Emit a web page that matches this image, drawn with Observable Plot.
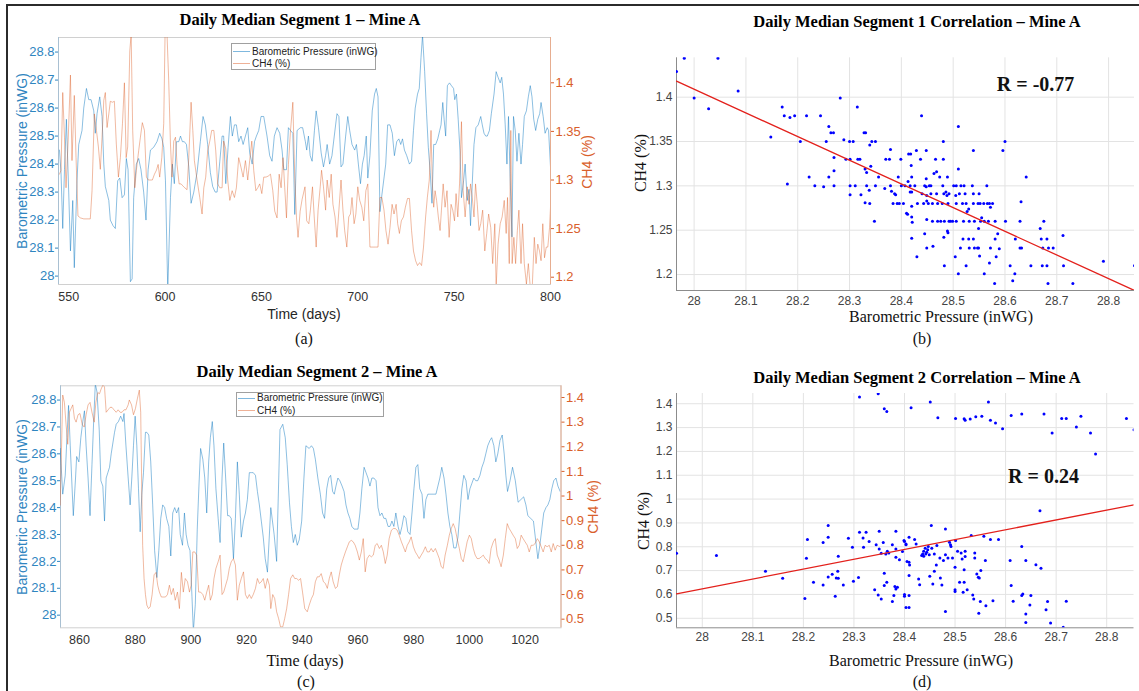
<!DOCTYPE html>
<html><head><meta charset="utf-8">
<script src="https://cdn.jsdelivr.net/npm/d3@7"></script>
<script src="https://cdn.jsdelivr.net/npm/@observablehq/plot@0.6"></script>
<style>
html,body{margin:0;padding:0;background:#fff;}
#page{position:relative;width:1139px;height:691px;overflow:hidden;background:#fff;}
.t{position:absolute;white-space:nowrap;line-height:1;}
.serif{font-family:"Liberation Serif","Times New Roman",serif;}
.sans{font-family:"Liberation Sans",Arial,sans-serif;}
.legend{position:absolute;border:1px solid #a0a0a0;background:#fff;font-family:"Liberation Sans",Arial,sans-serif;font-size:10px;color:#222;box-sizing:border-box;}
.legend .row{position:absolute;left:0;white-space:nowrap;line-height:1;}
.legend .sw{display:inline-block;width:17px;height:0;border-top:1.2px solid;vertical-align:middle;margin:0 2px 0 1px;}
</style></head>
<body><div id="page"></div>
<script>
// ---------------- DATA ----------------
const pressTicks = [28, 28.1, 28.2, 28.3, 28.4, 28.5, 28.6, 28.7, 28.8];
const dayTicksA = [550, 600, 650, 700, 750, 800];
const ch4TicksA = [1.2, 1.25, 1.3, 1.35, 1.4];
const dayTicksC = [860, 880, 900, 920, 940, 960, 980, 1000, 1020];
const ch4TicksC = [0.5, 0.6, 0.7, 0.8, 0.9, 1, 1.1, 1.2, 1.3, 1.4];
const ch4TicksB = [1.2, 1.25, 1.3, 1.35, 1.4];
const ch4TicksD = [0.5, 0.6, 0.7, 0.8, 0.9, 1, 1.1, 1.2, 1.3, 1.4];

// Segment 1 (days 545-800): barometric pressure [day, inWG]
const pressA = [[545.2,28.45],[546.0,28.37],[546.9,28.17],[547.8,28.38],[548.8,28.56],[550.0,28.30],[550.9,28.09],[552.1,28.27],[552.9,28.03],[554.3,28.34],[555.2,28.47],[556.9,28.52],[557.8,28.60],[559.2,28.67],[560.4,28.63],[561.6,28.63],[563.0,28.59],[563.8,28.51],[564.7,28.58],[566.1,28.64],[567.3,28.57],[568.2,28.40],[569.0,28.32],[570.8,28.27],[571.6,28.20],[573.0,28.18],[574.2,28.17],[575.4,28.34],[576.5,28.35],[577.7,28.28],[578.9,28.29],[579.9,28.42],[580.8,28.38],[582.0,27.98],[582.9,27.99],[583.7,28.28],[585.1,28.40],[586.3,28.42],[587.5,28.38],[588.9,28.30],[590.1,28.20],[591.2,28.38],[592.4,28.45],[594.1,28.46],[595.8,28.48],[597.2,28.51],[598.4,28.49],[599.3,28.46],[600.2,28.34],[601.4,27.95],[602.8,28.28],[603.8,28.40],[604.8,28.33],[605.9,28.48],[607.1,28.48],[608.0,28.50],[609.0,28.48],[610.0,28.48],[611.1,28.47],[612.3,28.39],[613.5,28.26],[614.9,28.30],[616.6,28.37],[618.3,28.48],[619.7,28.57],[620.9,28.54],[622.1,28.47],[623.5,28.37],[624.7,28.32],[626.0,28.30],[627.0,28.30],[628.4,28.41],[629.6,28.50],[630.4,28.50],[631.5,28.33],[632.7,28.46],[633.9,28.57],[634.9,28.50],[636.0,28.54],[637.0,28.54],[638.2,28.48],[639.4,28.50],[640.5,28.47],[641.7,28.50],[642.9,28.53],[643.9,28.44],[645.2,28.40],[646.4,28.48],[647.4,28.50],[648.6,28.52],[649.8,28.57],[651.2,28.57],[652.9,28.50],[654.3,28.43],[655.5,28.41],[656.7,28.50],[658.1,28.53],[659.5,28.51],[660.7,28.45],[661.6,28.38],[663.0,28.38],[664.0,28.53],[665.1,28.52],[666.3,28.51],[667.3,28.22],[668.5,28.52],[670.2,28.53],[671.4,28.53],[672.8,28.48],[673.5,28.45],[674.4,28.50],[675.3,28.43],[676.3,28.41],[677.5,28.52],[678.4,28.59],[679.6,28.53],[681.0,28.44],[682.2,28.39],[683.3,28.43],[684.1,28.47],[685.4,28.40],[686.6,28.43],[687.8,28.50],[689.2,28.58],[690.2,28.57],[691.3,28.39],[692.3,28.40],[693.7,28.50],[694.8,28.57],[695.8,28.52],[697.0,28.47],[698.4,28.45],[699.3,28.47],[700.3,28.40],[701.4,28.33],[702.4,28.40],[703.3,28.43],[704.4,28.50],[705.2,28.35],[706.3,28.43],[707.5,28.59],[708.7,28.65],[709.6,28.67],[710.5,28.64],[711.5,28.23],[712.5,28.29],[713.6,28.35],[714.5,28.40],[715.5,28.54],[716.7,28.54],[717.9,28.51],[719.0,28.43],[720.2,28.48],[721.3,28.49],[722.3,28.47],[723.2,28.49],[724.2,28.45],[725.4,28.43],[726.8,28.40],[727.9,28.41],[728.9,28.52],[729.8,28.60],[731.0,28.65],[731.9,28.67],[732.8,28.78],[733.6,28.86],[734.7,28.73],[735.7,28.58],[736.6,28.46],[737.6,28.37],[738.5,28.26],[739.4,28.47],[740.4,28.47],[741.5,28.49],[742.5,28.52],[743.2,28.54],[744.1,28.62],[744.8,28.56],[745.6,28.50],[746.5,28.68],[747.6,28.69],[748.6,28.68],[749.7,28.67],[750.3,28.63],[751.2,28.65],[752.1,28.56],[753.0,28.45],[753.8,28.28],[754.9,28.34],[755.7,28.40],[756.8,28.27],[757.7,28.31],[758.5,28.18],[759.4,28.33],[760.3,28.47],[761.3,28.53],[762.5,28.54],[763.8,28.57],[764.6,28.54],[765.5,28.51],[766.4,28.50],[767.2,28.50],[768.3,28.52],[769.3,28.58],[770.7,28.65],[771.8,28.73],[772.8,28.71],[773.9,28.69],[774.7,28.71],[775.6,28.65],[776.5,28.54],[777.4,28.40],[778.2,28.57],[779.1,28.34],[780.0,28.14],[780.8,28.57],[781.7,28.52],[782.6,28.41],[783.6,28.51],[784.7,28.40],[785.5,28.47],[786.4,28.57],[787.5,28.59],[788.5,28.64],[789.5,28.68],[790.4,28.64],[791.3,28.56],[792.3,28.52],[793.4,28.56],[794.4,28.58],[795.1,28.62],[796.2,28.57],[797.2,28.51],[798.3,28.53],[799.0,28.52],[800.0,28.39]];

// Segment 1: CH4 [day, %]
const ch4A = [[545.2,1.306],[546.0,1.31],[546.9,1.39],[547.8,1.344],[548.6,1.292],[549.7,1.34],[550.9,1.408],[551.7,1.32],[552.9,1.387],[553.8,1.323],[554.8,1.263],[556.1,1.261],[557.8,1.26],[559.5,1.26],[561.2,1.26],[562.1,1.289],[563.3,1.368],[564.4,1.351],[565.4,1.334],[566.4,1.311],[567.3,1.344],[568.2,1.382],[569.0,1.39],[569.9,1.354],[570.8,1.368],[571.6,1.381],[572.7,1.38],[573.7,1.381],[574.7,1.337],[575.8,1.303],[576.8,1.323],[577.9,1.358],[578.9,1.40],[579.8,1.323],[580.6,1.334],[581.7,1.433],[582.4,1.45],[583.2,1.351],[584.3,1.292],[585.1,1.31],[586.3,1.33],[587.2,1.344],[588.2,1.359],[589.3,1.351],[590.3,1.303],[591.3,1.30],[592.4,1.30],[593.4,1.30],[594.5,1.306],[595.5,1.31],[596.4,1.316],[597.2,1.303],[598.3,1.323],[599.3,1.358],[600.0,1.45],[601.0,1.45],[601.9,1.402],[602.8,1.337],[603.6,1.303],[604.5,1.34],[605.4,1.344],[606.2,1.316],[607.3,1.296],[608.3,1.296],[609.2,1.294],[610.2,1.292],[611.4,1.29],[612.3,1.323],[613.5,1.38],[614.4,1.351],[615.2,1.32],[616.6,1.30],[618.0,1.282],[619.2,1.265],[620.1,1.292],[621.1,1.303],[622.1,1.33],[623.2,1.34],[624.2,1.351],[625.3,1.351],[626.3,1.33],[627.3,1.296],[628.4,1.292],[629.6,1.292],[630.4,1.34],[631.5,1.332],[632.5,1.30],[633.6,1.279],[634.8,1.289],[636.0,1.282],[637.0,1.292],[638.2,1.323],[639.4,1.313],[640.5,1.303],[641.7,1.32],[642.9,1.30],[643.9,1.32],[645.0,1.34],[646.0,1.31],[647.1,1.289],[648.1,1.292],[649.1,1.296],[650.2,1.286],[651.2,1.303],[652.4,1.303],[653.5,1.304],[654.7,1.306],[655.9,1.289],[656.9,1.268],[658.1,1.261],[659.2,1.306],[660.2,1.292],[661.2,1.323],[662.1,1.292],[663.0,1.261],[664.0,1.316],[665.1,1.351],[666.3,1.38],[667.3,1.303],[668.2,1.261],[669.0,1.241],[670.1,1.268],[671.1,1.28],[672.6,1.293],[673.5,1.258],[674.6,1.255],[675.4,1.269],[676.5,1.293],[677.4,1.262],[678.4,1.231],[679.4,1.269],[680.5,1.293],[681.2,1.31],[682.2,1.293],[683.3,1.269],[684.1,1.30],[685.2,1.282],[686.2,1.306],[687.1,1.275],[688.2,1.262],[689.2,1.241],[690.2,1.269],[691.3,1.30],[692.3,1.269],[693.2,1.248],[694.3,1.231],[695.3,1.262],[696.2,1.265],[697.0,1.282],[698.1,1.255],[699.0,1.265],[700.0,1.293],[701.0,1.279],[702.1,1.272],[703.1,1.258],[704.2,1.289],[705.2,1.296],[706.3,1.231],[707.3,1.231],[708.4,1.231],[709.4,1.231],[710.5,1.231],[711.5,1.282],[712.5,1.282],[713.6,1.269],[714.6,1.248],[715.7,1.234],[716.7,1.251],[717.8,1.275],[718.8,1.265],[719.9,1.275],[720.7,1.255],[721.6,1.245],[722.6,1.258],[723.7,1.262],[724.7,1.272],[725.8,1.281],[726.8,1.281],[727.9,1.248],[728.9,1.227],[730.0,1.217],[731.0,1.212],[732.1,1.215],[733.1,1.212],[734.1,1.231],[735.2,1.262],[736.1,1.282],[737.1,1.30],[738.0,1.351],[738.7,1.296],[739.4,1.272],[740.1,1.289],[740.9,1.279],[741.8,1.262],[742.7,1.248],[743.4,1.269],[744.3,1.296],[745.3,1.272],[746.3,1.289],[747.4,1.241],[748.4,1.275],[749.3,1.269],[750.2,1.258],[751.0,1.286],[751.9,1.262],[752.8,1.296],[753.8,1.36],[754.7,1.289],[755.7,1.262],[756.8,1.293],[757.7,1.275],[758.5,1.296],[759.4,1.282],[760.3,1.262],[761.1,1.296],[762.0,1.275],[762.9,1.248],[763.8,1.255],[764.8,1.269],[765.9,1.227],[766.9,1.245],[767.9,1.265],[769.0,1.251],[770.0,1.214],[771.1,1.255],[771.8,1.19],[772.8,1.234],[773.9,1.255],[774.9,1.262],[776.0,1.279],[777.0,1.245],[777.7,1.282],[778.6,1.214],[779.4,1.351],[780.1,1.214],[781.0,1.241],[781.9,1.214],[782.8,1.248],[783.6,1.269],[784.7,1.214],[785.5,1.255],[786.4,1.214],[787.5,1.193],[788.5,1.214],[789.5,1.19],[790.6,1.193],[791.6,1.241],[792.5,1.214],[793.4,1.234],[794.3,1.227],[795.1,1.217],[796.0,1.255],[796.9,1.22],[797.8,1.231],[798.6,1.231],[799.5,1.251],[800.0,1.272]];

// Segment 2 (days 853-1033): barometric pressure [day, inWG]
const pressC = [[853.1,28.62],[854.0,28.45],[854.9,28.52],[855.5,28.66],[856.1,28.78],[856.7,28.63],[857.2,28.51],[857.8,28.37],[858.6,28.51],[859.0,28.59],[859.8,28.57],[860.5,28.66],[861.2,28.72],[861.8,28.76],[862.4,28.63],[863.1,28.51],[863.8,28.37],[864.5,28.56],[865.1,28.72],[865.7,28.86],[866.3,28.83],[867.1,28.69],[867.7,28.50],[868.4,28.48],[869.0,28.35],[869.6,28.51],[870.2,28.53],[870.8,28.55],[871.4,28.60],[872.0,28.64],[872.6,28.68],[873.2,28.71],[874.0,28.72],[874.8,28.74],[875.6,28.72],[876.0,28.75],[876.7,28.63],[877.5,28.51],[878.2,28.41],[878.8,28.51],[879.4,28.63],[880.0,28.74],[880.6,28.63],[881.2,28.47],[881.8,28.31],[882.4,28.45],[883.0,28.53],[883.7,28.68],[884.2,28.68],[884.9,28.67],[885.6,28.57],[886.3,28.41],[887.0,28.24],[887.8,28.14],[888.5,28.24],[889.2,28.36],[889.9,28.41],[890.6,28.40],[891.3,28.36],[892.1,28.33],[892.8,28.22],[893.5,28.38],[894.2,28.40],[894.9,28.38],[895.6,28.40],[896.2,28.30],[897.0,28.26],[897.7,28.38],[898.3,28.30],[899.0,28.26],[899.7,28.24],[900.4,28.07],[900.9,27.94],[901.6,28.04],[902.3,28.32],[902.9,28.48],[903.5,28.62],[904.3,28.58],[905.0,28.51],[905.7,28.38],[906.4,28.57],[907.0,28.66],[907.7,28.72],[908.3,28.63],[909.0,28.47],[909.8,28.36],[910.5,28.27],[911.2,28.51],[911.8,28.64],[912.5,28.51],[913.2,28.37],[913.8,28.37],[914.5,28.36],[915.3,28.21],[916.0,28.36],[916.7,28.57],[917.4,28.45],[918.1,28.29],[918.9,28.35],[919.6,28.38],[920.3,28.43],[921.0,28.53],[921.7,28.53],[922.4,28.53],[923.2,28.52],[923.9,28.46],[924.6,28.41],[925.3,28.35],[926.0,28.29],[926.7,28.21],[927.5,28.16],[928.7,28.40],[929.9,28.30],[930.8,28.20],[932.0,28.69],[933.0,28.71],[933.9,28.66],[934.6,28.56],[935.4,28.42],[936.1,28.33],[936.8,28.27],[937.5,28.30],[938.2,28.26],[938.9,28.28],[939.8,28.35],[940.6,28.51],[941.3,28.63],[942.5,28.62],[943.3,28.63],[944.0,28.62],[944.7,28.58],[945.6,28.51],[946.5,28.45],[947.3,28.38],[948.0,28.36],[948.8,28.47],[949.5,28.51],[950.2,28.52],[950.9,28.46],[951.5,28.45],[952.1,28.48],[952.8,28.51],[953.5,28.50],[954.3,28.48],[955.0,28.46],[955.7,28.41],[956.4,28.38],[957.1,28.36],[957.8,28.33],[958.6,28.32],[959.3,28.32],[960.0,28.32],[960.7,28.38],[961.4,28.47],[962.2,28.55],[962.9,28.53],[963.6,28.51],[964.3,28.48],[965.0,28.51],[965.7,28.51],[966.5,28.50],[967.2,28.40],[967.9,28.37],[968.6,28.38],[969.3,28.36],[970.0,28.36],[970.8,28.33],[971.5,28.33],[972.2,28.35],[972.9,28.33],[973.6,28.38],[974.4,28.33],[975.1,28.30],[975.8,28.33],[976.5,28.37],[977.2,28.36],[977.9,28.31],[978.7,28.30],[979.4,28.38],[980.1,28.47],[980.8,28.55],[981.5,28.56],[982.2,28.47],[983.0,28.45],[983.7,28.36],[984.4,28.43],[985.1,28.45],[985.8,28.45],[986.6,28.45],[987.3,28.45],[988.0,28.45],[988.7,28.48],[989.4,28.51],[990.1,28.55],[990.9,28.51],[991.6,28.45],[992.3,28.38],[993.0,28.33],[993.7,28.30],[994.4,28.25],[995.2,28.25],[995.9,28.29],[996.6,28.38],[997.3,28.47],[998.0,28.52],[998.8,28.50],[999.5,28.43],[1000.2,28.47],[1000.9,28.49],[1001.6,28.51],[1002.3,28.50],[1003.0,28.50],[1003.8,28.52],[1004.5,28.55],[1005.2,28.57],[1005.9,28.60],[1006.6,28.63],[1007.4,28.65],[1008.0,28.66],[1008.8,28.63],[1009.5,28.57],[1010.2,28.60],[1011.0,28.65],[1011.8,28.67],[1012.5,28.60],[1013.1,28.52],[1013.7,28.46],[1014.6,28.50],[1015.5,28.55],[1016.5,28.50],[1017.5,28.42],[1018.5,28.43],[1019.5,28.44],[1020.3,28.41],[1021.0,28.37],[1022.0,28.36],[1023.0,28.35],[1023.9,28.27],[1024.6,28.21],[1025.3,28.26],[1026.0,28.32],[1026.7,28.38],[1027.5,28.40],[1028.2,28.41],[1028.9,28.43],[1029.6,28.47],[1030.3,28.50],[1031.1,28.51],[1031.8,28.48],[1032.6,28.46]];

// Segment 2: CH4 [day, %]
const ch4C = [[853.1,0.963],[854.0,1.41],[854.6,1.38],[855.2,1.29],[855.8,1.21],[856.4,1.34],[857.0,1.355],[857.6,1.37],[858.2,1.315],[858.8,1.30],[859.5,1.33],[860.2,1.335],[861.0,1.29],[861.7,1.28],[862.4,1.33],[863.1,1.37],[863.8,1.38],[864.5,1.34],[865.3,1.30],[865.9,1.38],[866.6,1.42],[867.2,1.415],[867.8,1.435],[868.4,1.45],[869.0,1.443],[869.6,1.34],[870.3,1.35],[871.0,1.36],[871.7,1.36],[872.4,1.35],[873.2,1.34],[873.9,1.35],[874.6,1.34],[875.3,1.34],[876.0,1.35],[876.7,1.35],[877.5,1.37],[877.9,1.39],[878.7,1.37],[879.4,1.33],[880.1,1.355],[880.8,1.395],[881.5,1.43],[882.0,1.34],[882.4,1.004],[882.7,0.80],[883.2,0.665],[883.7,0.60],[884.2,0.557],[884.8,0.543],[885.4,0.55],[886.1,0.60],[886.8,0.68],[887.5,0.69],[888.1,0.638],[888.7,0.61],[889.4,0.59],[890.1,0.59],[890.9,0.59],[891.6,0.60],[892.3,0.638],[893.0,0.60],[893.7,0.625],[894.4,0.577],[895.2,0.61],[895.9,0.543],[896.6,0.69],[897.3,0.61],[898.0,0.665],[898.8,0.652],[899.5,0.61],[900.1,0.638],[900.7,0.773],[901.4,0.773],[902.1,0.76],[902.8,0.61],[903.5,0.61],[904.3,0.60],[905.0,0.577],[905.7,0.61],[906.4,0.638],[907.0,0.577],[907.7,0.60],[908.3,0.665],[909.0,0.706],[909.8,0.733],[910.5,0.76],[911.2,0.60],[911.8,0.61],[912.5,0.638],[913.2,0.665],[913.8,0.706],[914.5,0.733],[915.3,0.746],[916.0,0.72],[916.7,0.577],[917.4,0.638],[918.1,0.665],[918.9,0.692],[919.6,0.60],[920.3,0.584],[921.0,0.60],[921.7,0.584],[922.4,0.60],[923.2,0.625],[923.9,0.665],[924.6,0.645],[925.3,0.652],[926.0,0.665],[926.7,0.625],[927.5,0.665],[928.2,0.638],[928.7,0.543],[929.4,0.60],[930.1,0.584],[930.8,0.53],[931.5,0.503],[932.2,0.469],[933.0,0.469],[933.7,0.503],[934.4,0.543],[935.1,0.60],[935.8,0.665],[936.6,0.68],[937.3,0.665],[938.0,0.665],[938.7,0.658],[939.4,0.665],[940.1,0.61],[940.9,0.543],[941.8,0.53],[942.5,0.557],[943.3,0.584],[944.0,0.60],[944.7,0.652],[945.4,0.672],[946.1,0.672],[946.8,0.685],[947.6,0.652],[948.3,0.645],[949.0,0.625],[949.7,0.665],[950.4,0.692],[951.1,0.652],[951.9,0.625],[952.6,0.632],[953.3,0.68],[954.0,0.72],[954.7,0.746],[955.5,0.773],[956.2,0.794],[956.9,0.814],[957.6,0.82],[958.3,0.814],[959.0,0.80],[959.8,0.773],[960.5,0.74],[961.2,0.773],[961.9,0.827],[962.6,0.692],[963.3,0.746],[964.1,0.76],[964.8,0.753],[965.5,0.76],[966.2,0.80],[966.9,0.807],[967.7,0.787],[968.4,0.80],[969.1,0.773],[969.8,0.726],[970.5,0.76],[971.2,0.827],[972.0,0.861],[972.7,0.868],[973.4,0.868],[974.1,0.861],[974.8,0.841],[975.6,0.814],[976.3,0.794],[977.0,0.773],[977.7,0.80],[978.4,0.814],[979.1,0.834],[979.9,0.794],[980.6,0.773],[981.3,0.76],[982.0,0.746],[982.7,0.76],[983.4,0.773],[984.2,0.794],[984.9,0.773],[985.6,0.773],[986.3,0.787],[987.0,0.773],[987.8,0.787],[988.5,0.767],[989.2,0.746],[989.9,0.713],[990.6,0.706],[991.3,0.76],[992.1,0.80],[992.8,0.841],[993.5,0.868],[994.2,0.888],[994.9,0.868],[995.6,0.827],[996.4,0.787],[997.1,0.746],[997.8,0.733],[998.5,0.773],[999.2,0.814],[1000.0,0.841],[1000.7,0.827],[1001.4,0.787],[1002.1,0.76],[1002.8,0.746],[1003.5,0.746],[1004.3,0.753],[1005.0,0.76],[1005.7,0.746],[1006.4,0.74],[1007.1,0.726],[1007.8,0.787],[1008.6,0.814],[1009.3,0.827],[1010.0,0.76],[1010.7,0.74],[1011.4,0.713],[1012.2,0.76],[1012.9,0.827],[1013.6,0.888],[1014.3,0.868],[1015.0,0.855],[1015.7,0.841],[1016.5,0.827],[1017.2,0.787],[1017.9,0.80],[1018.6,0.841],[1019.3,0.827],[1020.0,0.814],[1020.8,0.80],[1021.5,0.773],[1022.2,0.80],[1022.9,0.80],[1023.6,0.807],[1024.4,0.827],[1025.1,0.814],[1025.8,0.794],[1026.5,0.773],[1027.2,0.80],[1027.9,0.794],[1028.7,0.80],[1029.4,0.773],[1030.1,0.807],[1030.8,0.78],[1031.5,0.80],[1032.6,0.794]];

// Segment 1 correlation: [pressure, CH4]
const scatterB = [[27.966,1.429],[27.981,1.444],[28.0,1.399],[28.028,1.387],[28.046,1.444],[28.085,1.407],[28.148,1.355],[28.170,1.389],[28.174,1.379],[28.18,1.302],[28.185,1.377],[28.194,1.379],[28.205,1.35],[28.217,1.379],[28.222,1.31],[28.233,1.3],[28.244,1.379],[28.25,1.299],[28.255,1.35],[28.26,1.367],[28.26,1.31],[28.264,1.36],[28.269,1.36],[28.27,1.332],[28.27,1.317],[28.27,1.3],[28.282,1.399],[28.289,1.352],[28.293,1.33],[28.3,1.35],[28.301,1.33],[28.301,1.3],[28.301,1.29],[28.307,1.35],[28.311,1.3],[28.315,1.389],[28.316,1.33],[28.32,1.33],[28.322,1.29],[28.328,1.36],[28.33,1.319],[28.331,1.36],[28.33,1.281],[28.333,1.3],[28.333,1.315],[28.338,1.295],[28.339,1.346],[28.339,1.28],[28.341,1.322],[28.343,1.35],[28.348,1.26],[28.35,1.35],[28.35,1.3],[28.356,1.31],[28.368,1.297],[28.37,1.33],[28.377,1.33],[28.379,1.341],[28.379,1.3],[28.381,1.294],[28.384,1.28],[28.387,1.291],[28.389,1.29],[28.392,1.28],[28.394,1.31],[28.396,1.28],[28.399,1.33],[28.4,1.3],[28.404,1.28],[28.407,1.3],[28.412,1.268],[28.413,1.305],[28.414,1.336],[28.417,1.293],[28.41,1.269],[28.417,1.3],[28.418,1.336],[28.419,1.323],[28.42,1.31],[28.42,1.293],[28.42,1.277],[28.42,1.265],[28.421,1.259],[28.42,1.241],[28.426,1.3],[28.429,1.34],[28.43,1.22],[28.431,1.28],[28.437,1.33],[28.439,1.379],[28.44,1.291],[28.443,1.28],[28.445,1.246],[28.445,1.3],[28.448,1.34],[28.448,1.308],[28.448,1.299],[28.449,1.289],[28.449,1.283],[28.449,1.262],[28.449,1.23],[28.452,1.28],[28.454,1.3],[28.457,1.3],[28.457,1.291],[28.46,1.28],[28.46,1.26],[28.461,1.232],[28.466,1.33],[28.463,1.314],[28.468,1.316],[28.468,1.291],[28.47,1.28],[28.47,1.26],[28.474,1.31],[28.476,1.26],[28.479,1.28],[28.48,1.3],[28.481,1.35],[28.481,1.33],[28.482,1.291],[28.482,1.242],[28.483,1.26],[28.483,1.21],[28.486,1.293],[28.488,1.289],[28.489,1.31],[28.489,1.249],[28.49,1.247],[28.49,1.28],[28.492,1.26],[28.492,1.291],[28.495,1.26],[28.499,1.26],[28.501,1.3],[28.504,1.22],[28.505,1.289],[28.506,1.28],[28.506,1.26],[28.506,1.3],[28.51,1.367],[28.51,1.319],[28.51,1.201],[28.512,1.291],[28.514,1.23],[28.515,1.3],[28.518,1.28],[28.519,1.24],[28.52,1.26],[28.521,1.3],[28.523,1.291],[28.525,1.21],[28.525,1.28],[28.527,1.271],[28.53,1.274],[28.53,1.24],[28.531,1.26],[28.531,1.23],[28.537,1.3],[28.539,1.34],[28.539,1.291],[28.539,1.28],[28.539,1.24],[28.541,1.23],[28.541,1.26],[28.547,1.23],[28.548,1.28],[28.549,1.23],[28.549,1.252],[28.55,1.291],[28.551,1.221],[28.552,1.28],[28.553,1.26],[28.555,1.264],[28.559,1.28],[28.56,1.201],[28.56,1.26],[28.565,1.3],[28.566,1.28],[28.568,1.26],[28.57,1.213],[28.57,1.28],[28.572,1.276],[28.572,1.23],[28.576,1.28],[28.58,1.19],[28.581,1.24],[28.581,1.26],[28.583,1.22],[28.586,1.246],[28.589,1.229],[28.596,1.34],[28.6,1.35],[28.601,1.26],[28.61,1.21],[28.615,1.193],[28.619,1.201],[28.62,1.24],[28.629,1.23],[28.632,1.23],[28.629,1.26],[28.631,1.282],[28.641,1.31],[28.65,1.21],[28.668,1.252],[28.67,1.24],[28.673,1.23],[28.672,1.21],[28.675,1.26],[28.681,1.24],[28.681,1.21],[28.683,1.19],[28.684,1.23],[28.693,1.23],[28.712,1.244],[28.713,1.21],[28.731,1.19],[28.79,1.215],[28.85,1.21]];

// Segment 2 correlation: [pressure, CH4]
const scatterD = [[27.949,0.773],[28.028,0.763],[28.125,0.697],[28.159,0.668],[28.203,0.583],[28.206,0.752],[28.208,0.83],[28.22,0.651],[28.239,0.64],[28.239,0.818],[28.249,0.889],[28.249,0.84],[28.249,0.673],[28.257,0.685],[28.263,0.592],[28.265,0.669],[28.268,0.697],[28.269,0.668],[28.269,0.76],[28.279,0.64],[28.289,0.836],[28.297,0.798],[28.299,0.655],[28.309,0.671],[28.311,0.861],[28.318,0.837],[28.319,0.798],[28.324,0.861],[28.33,0.822],[28.311,1.428],[28.348,1.442],[28.341,0.62],[28.344,0.808],[28.35,0.791],[28.35,0.865],[28.348,0.598],[28.354,0.773],[28.354,0.581],[28.358,0.818],[28.36,0.689],[28.36,1.379],[28.363,0.77],[28.365,1.368],[28.365,0.651],[28.366,0.781],[28.36,0.637],[28.369,0.774],[28.376,0.808],[28.376,0.57],[28.379,0.595],[28.381,0.633],[28.383,0.791],[28.383,0.623],[28.383,0.865],[28.383,0.756],[28.386,0.63],[28.39,0.745],[28.396,0.78],[28.399,0.826],[28.4,0.6],[28.4,0.592],[28.403,0.545],[28.403,0.808],[28.409,0.545],[28.409,0.84],[28.409,0.679],[28.409,0.735],[28.409,0.595],[28.413,1.383],[28.451,1.407],[28.466,1.341],[28.501,1.338],[28.518,1.337],[28.52,1.331],[28.53,1.336],[28.541,1.345],[28.553,1.348],[28.566,1.407],[28.57,1.331],[28.58,1.319],[28.594,1.295],[28.611,1.351],[28.632,1.357],[28.676,1.357],[28.692,1.277],[28.711,1.338],[28.72,1.338],[28.749,1.348],[28.74,1.302],[28.768,1.277],[28.778,1.189],[28.839,1.338],[28.854,1.291],[28.668,0.951],[28.400,0.822],[28.403,0.812],[28.405,0.738],[28.41,0.724],[28.42,0.83],[28.423,0.812],[28.428,0.665],[28.43,0.641],[28.434,0.763],[28.436,0.77],[28.438,0.781],[28.438,0.76],[28.441,0.794],[28.442,0.77],[28.444,0.777],[28.446,0.787],[28.447,0.801],[28.449,0.766],[28.45,0.676],[28.453,0.889],[28.454,0.794],[28.456,0.644],[28.459,0.697],[28.459,0.77],[28.463,0.724],[28.464,0.805],[28.47,0.753],[28.471,0.669],[28.474,0.64],[28.477,0.742],[28.481,0.766],[28.481,0.875],[28.481,0.528],[28.486,0.753],[28.489,0.819],[28.491,0.808],[28.492,0.801],[28.495,0.753],[28.5,0.714],[28.5,0.62],[28.5,0.612],[28.501,0.826],[28.505,0.781],[28.509,0.651],[28.512,0.774],[28.514,0.749],[28.516,0.609],[28.518,0.651],[28.518,0.704],[28.52,0.781],[28.52,0.759],[28.524,0.62],[28.532,0.847],[28.535,0.598],[28.537,0.581],[28.539,0.774],[28.539,0.753],[28.543,0.686],[28.546,0.672],[28.548,0.669],[28.551,0.7],[28.547,0.521],[28.55,0.57],[28.557,0.844],[28.56,0.742],[28.561,0.553],[28.57,0.83],[28.575,0.574],[28.586,0.83],[28.609,0.742],[28.611,0.637],[28.615,0.571],[28.632,0.801],[28.632,0.595],[28.634,0.602],[28.64,0.742],[28.64,0.518],[28.64,0.482],[28.65,0.595],[28.648,0.556],[28.66,0.725],[28.67,0.71],[28.68,0.536],[28.683,0.57],[28.689,0.48],[28.714,0.462],[28.72,0.571]];

// fitted regression lines (end points)
const fitB = [[27.966, 1.418], [28.85, 1.182]];
const fitD = [[27.949, 0.6025], [28.854, 0.976]];
const rLabels = ["R = -0.77", "R = 0.24"];

// ---------------- DRAWING ----------------
const W = 1139, H = 691;
const page = document.getElementById("page");
const SANS = '"Liberation Sans", Arial, sans-serif';
const SERIF = '"Liberation Serif", "Times New Roman", serif';
const BLUE = "#0072BD", ORANGE = "#D95319";
const BLUE_TXT = "#2f85c0", ORANGE_TXT = "#d9602b";
const fmt = d => String(Math.round(d * 1000) / 1000);

function layer(opts) {
  const svg = Plot.plot(Object.assign({
    width: W, height: H,
    style: {position: "absolute", left: "0px", top: "0px", background: "transparent", overflow: "visible", fontFamily: SANS}
  }, opts));
  svg.style.position = "absolute"; svg.style.left = "0px"; svg.style.top = "0px";
  page.appendChild(svg);
}
function text(str, x, y, cls, css, rot) {
  const d = document.createElement("div");
  d.className = "t " + cls;
  d.textContent = str;
  d.style.left = x + "px"; d.style.top = y + "px";
  d.style.transform = "translate(-50%,-50%)" + (rot ? " rotate(-90deg)" : "");
  Object.assign(d.style, css || {});
  page.appendChild(d);
}

// ---- Panel (a) ----
const frA = {l: 58, r: 550, t: 37, b: 284};
const xDomA = [544.7, 800], pDomA = [27.97, 28.852], cDomA = [1.1925, 1.4466];
const mA = {marginLeft: frA.l, marginRight: W - frA.r, marginTop: frA.t, marginBottom: H - frA.b};
layer({...mA,
  x: {domain: xDomA}, y: {domain: pDomA},
  marks: [
    Plot.frame({stroke: "#d0d0d0"}),
    Plot.ruleX([xDomA[0]], {stroke: "#a9c0d2"}),
    Plot.axisY({anchor: "left", ticks: pressTicks, tickFormat: fmt, tickSize: 3, tickPadding: 1, fontSize: 13, color: BLUE_TXT, label: null}),
    Plot.axisX({anchor: "bottom", ticks: dayTicksA, tickFormat: fmt, tickSize: 0, tickPadding: 8, fontSize: 12.5, color: "#333", label: null}),
    Plot.line(pressA, {x: d => d[0], y: d => d[1], stroke: BLUE, strokeOpacity: 0.5, strokeWidth: 0.9, clip: true})
  ]});
layer({...mA,
  x: {domain: xDomA, axis: null}, y: {domain: cDomA},
  marks: [
    Plot.ruleX([xDomA[1]], {stroke: "#e6ad90"}),
    Plot.axisY({anchor: "right", ticks: ch4TicksA, tickFormat: fmt, tickSize: 3, tickPadding: 2, fontSize: 13, color: ORANGE_TXT, label: null}),
    Plot.line(ch4A, {x: d => d[0], y: d => d[1], stroke: ORANGE, strokeOpacity: 0.45, strokeWidth: 0.9, clip: true})
  ]});

// ---- Panel (c) ----
const frC = {l: 60, r: 560.5, t: 385.3, b: 627.3};
const xDomC = [853.2, 1032.9], pDomC = [27.953, 28.853], cDomC = [0.465, 1.4475];
const mC = {marginLeft: frC.l, marginRight: W - frC.r, marginTop: frC.t, marginBottom: H - frC.b};
layer({...mC,
  x: {domain: xDomC}, y: {domain: pDomC},
  marks: [
    Plot.frame({stroke: "#d0d0d0"}),
    Plot.ruleX([xDomC[0]], {stroke: "#a9c0d2"}),
    Plot.axisY({anchor: "left", ticks: pressTicks, tickFormat: fmt, tickSize: 3, tickPadding: 1, fontSize: 13, color: BLUE_TXT, label: null}),
    Plot.axisX({anchor: "bottom", ticks: dayTicksC, tickFormat: fmt, tickSize: 0, tickPadding: 7, fontSize: 12.5, color: "#333", label: null}),
    Plot.line(pressC, {x: d => d[0], y: d => d[1], stroke: BLUE, strokeOpacity: 0.5, strokeWidth: 0.9, clip: true})
  ]});
layer({...mC,
  x: {domain: xDomC, axis: null}, y: {domain: cDomC},
  marks: [
    Plot.ruleX([xDomC[1]], {stroke: "#e6ad90"}),
    Plot.axisY({anchor: "right", ticks: ch4TicksC, tickFormat: fmt, tickSize: 3, tickPadding: 2, fontSize: 13, color: ORANGE_TXT, label: null}),
    Plot.line(ch4C, {x: d => d[0], y: d => d[1], stroke: ORANGE, strokeOpacity: 0.45, strokeWidth: 0.9, clip: true})
  ]});

// ---- Panels (b) and (d) ----
function scatterPanel(fr, xDom, yDom, yTicks, data, fit, rText, rPos, padX) {
  layer({marginLeft: fr.l, marginRight: W - fr.r, marginTop: fr.t, marginBottom: H - fr.b,
    x: {domain: xDom}, y: {domain: yDom},
    marks: [
      Plot.gridX({ticks: pressTicks, stroke: "#e3e3e3", strokeOpacity: 1}),
      Plot.gridY({ticks: yTicks, stroke: "#e3e3e3", strokeOpacity: 1}),
      Plot.ruleX([xDom[0]], {stroke: "#8c8c8c"}),
      Plot.ruleY([yDom[0]], {stroke: "#8c8c8c"}),
      Plot.axisX({anchor: "bottom", ticks: pressTicks, tickFormat: fmt, tickSize: 0, tickPadding: padX, fontSize: 12, color: "#444", label: null}),
      Plot.axisY({anchor: "left", ticks: yTicks, tickFormat: fmt, tickSize: 0, tickPadding: 4, fontSize: 12, color: "#444", label: null}),
      Plot.dot(data, {x: d => d[0], y: d => d[1], r: 1.5, fill: "#0000ff", stroke: "none", clip: true}),
      Plot.line(fit, {x: d => d[0], y: d => d[1], stroke: "#e3211c", strokeWidth: 1.3, clip: true}),
      Plot.text([rText], {x: rPos[0], y: rPos[1], text: d => d, fontFamily: SERIF, fontWeight: "bold", fontSize: 20, fill: "#111"})
    ]});
}
scatterPanel({l: 676, r: 1134, t: 57.3, b: 290}, [27.966, 28.85], [1.182, 1.4444], ch4TicksB, scatterB, fitB, rLabels[0], [28.659, 1.414], 6);
scatterPanel({l: 676, r: 1133.5, t: 393, b: 627.3}, [27.949, 28.854], [0.46, 1.443], ch4TicksD, scatterD, fitD, rLabels[1], [28.675, 1.096], 5);

// ---- Titles, labels, captions ----
const titleCss = {fontWeight: "bold", fontSize: "16.5px", color: "#000"};
text("Daily Median Segment 1 \u2013 Mine A", 300, 19.5, "serif", titleCss);
text("Daily Median Segment 1 Correlation \u2013 Mine A", 917, 22, "serif", titleCss);
text("Daily Median Segment 2 \u2013 Mine A", 317, 372, "serif", titleCss);
text("Daily Median Segment 2 Correlation \u2013 Mine A", 917, 377.5, "serif", titleCss);

text("Time (days)", 304, 313.5, "sans", {fontSize: "14px", color: "#262626"});
text("Time (days)", 305, 661, "serif", {fontSize: "16px", color: "#111"});
text("Barometric Pressure (inWG)", 22, 161, "sans", {fontSize: "14px", color: BLUE_TXT}, true);
text("Barometric Pressure (inWG)", 22, 507, "sans", {fontSize: "14px", color: BLUE_TXT}, true);
text("CH4 (%)", 587, 162, "sans", {fontSize: "14px", color: ORANGE_TXT}, true);
text("CH4 (%)", 592.5, 507, "sans", {fontSize: "14px", color: ORANGE_TXT}, true);
text("CH4 (%)", 641, 163, "serif", {fontSize: "16px", color: "#111"}, true);
text("CH4 (%)", 643.5, 521, "serif", {fontSize: "16px", color: "#111"}, true);
text("Barometric Pressure (inWG)", 941, 317, "serif", {fontSize: "16px", color: "#111"});
text("Barometric Pressure (inWG)", 921, 661, "serif", {fontSize: "16px", color: "#111"});

text("(a)", 304, 338.5, "serif", {fontSize: "16px", color: "#111"});
text("(b)", 922, 338.5, "serif", {fontSize: "16px", color: "#111"});
text("(c)", 306, 682, "serif", {fontSize: "16px", color: "#111"});
text("(d)", 922, 682, "serif", {fontSize: "16px", color: "#111"});

// ---- Legends ----
function legend(x, y, w, h, rows) {
  const box = document.createElement("div");
  box.className = "legend";
  Object.assign(box.style, {left: x + "px", top: y + "px", width: w + "px", height: h + "px"});
  rows.forEach(([label, color, cy]) => {
    const r = document.createElement("div");
    r.className = "row";
    r.style.top = (cy - 5) + "px";
    const sw = document.createElement("span");
    sw.className = "sw";
    sw.style.borderTopColor = color;
    r.appendChild(sw);
    r.appendChild(document.createTextNode(label));
    box.appendChild(r);
  });
  page.appendChild(box);
}
legend(231, 43, 145, 27, [["Barometric Pressure (inWG)", "rgba(0,114,189,0.5)", 7.5], ["CH4 (%)", "rgba(217,83,25,0.45)", 19.5]]);
legend(236, 391.5, 148, 25, [["Barometric Pressure (inWG)", "rgba(0,114,189,0.5)", 5.8], ["CH4 (%)", "rgba(217,83,25,0.45)", 18]]);

// ---- figure border ----
const bt = document.createElement("div");
Object.assign(bt.style, {position: "absolute", left: "6px", top: "4px", width: "1133px", height: "0", borderTop: "2px solid #2b2b2b"});
page.appendChild(bt);
const bl = document.createElement("div");
Object.assign(bl.style, {position: "absolute", left: "6px", top: "4px", width: "0", height: "687px", borderLeft: "2px solid #2b2b2b"});
page.appendChild(bl);
</script>
</body></html>
